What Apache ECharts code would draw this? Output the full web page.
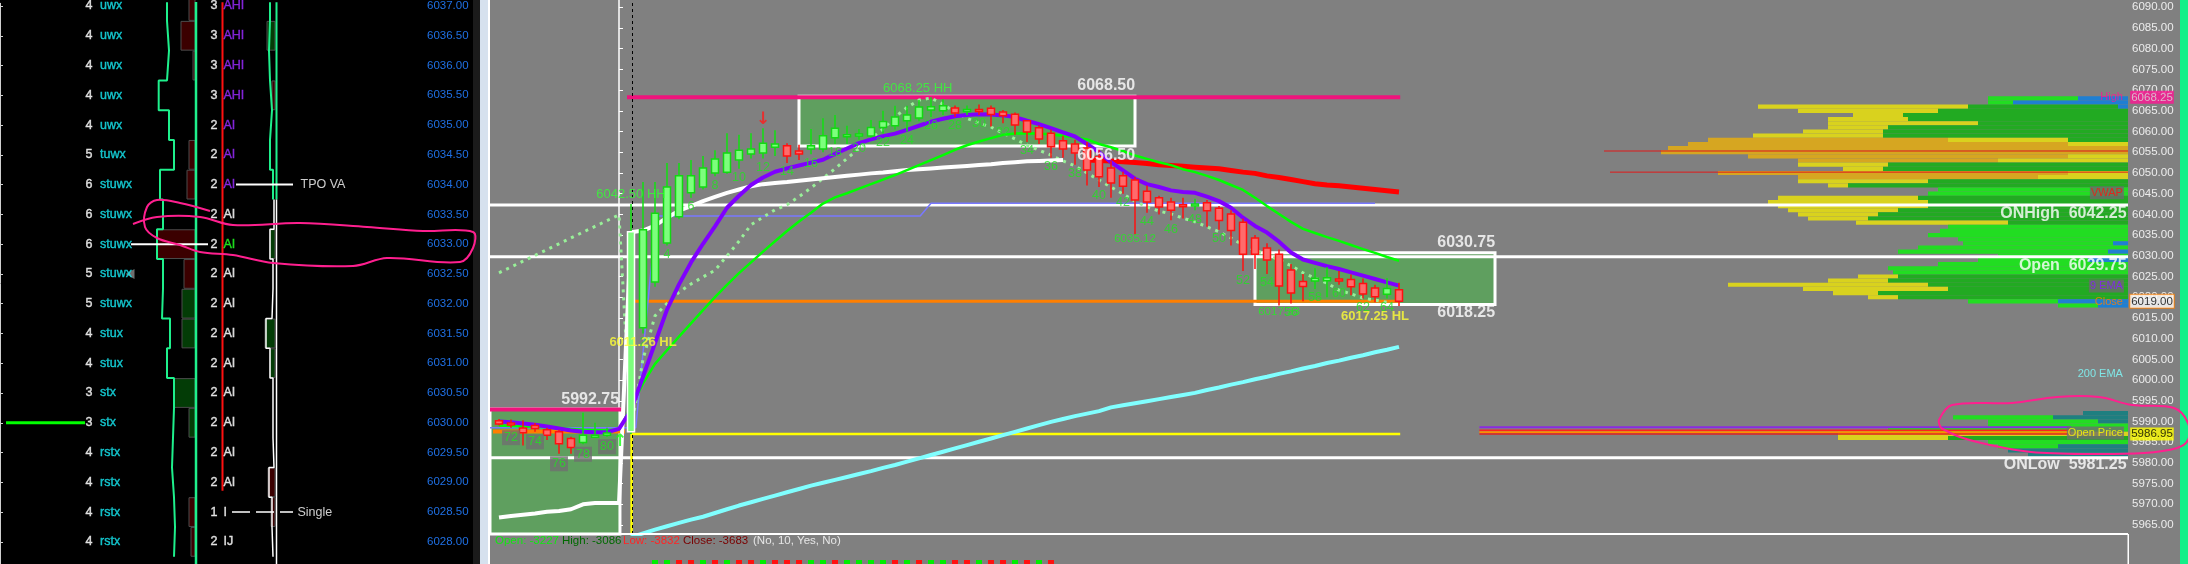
<!DOCTYPE html>
<html>
<head>
<meta charset="utf-8">
<script src="https://cdn.jsdelivr.net/npm/echarts@6.0.0/dist/echarts.min.js"></script>
<style>
html,body{margin:0;padding:0;background:#000;overflow:hidden}
#c{width:2188px;height:564px}
</style>
</head>
<body>
<div id="c"></div>
<script>
// ================= DATA =================
const priceTicks = [5965,5970,5975,5980,5985,5990,5995,6000,6005,6010,6015,6020,6025,6030,6035,6040,6045,6050,6055,6060,6065,6070,6075,6080,6085,6090];
const tpoTicks = [6028,6028.5,6029,6029.5,6030,6030.5,6031,6031.5,6032,6032.5,6033,6033.5,6034,6034.5,6035,6035.5,6036,6036.5,6037];

// candles: bar index (prev session -10..-1, current session 1..65)
const candleOpen = [5990.2,5989.6,5988.4,5989.0,5988.0,5987.5,5985.9,5984.9,5986.2,5986.7,
 5987.5,6012.6,6023.7,6033.1,6039.4,6045.2,6046.6,6050.0,6050.2,6053.1,
 6054.6,6054.8,6056.2,6056.6,6055.3,6055.8,6055.8,6058.5,6059.0,6059.2,
 6058.9,6061.0,6061.4,6062.6,6063.3,6065.2,6065.0,6065.7,6065.0,6065.3,
 6065.6,6064.7,6064.2,6062.6,6060.9,6059.6,6057.8,6057.0,6056.0,6053.9,
 6051.2,6049.3,6048.3,6045.6,6044.0,6043.0,6042.3,6042.2,6042.8,6041.5,
 6040.1,6038.1,6034.3,6031.9,6030.4,6026.6,6023.8,6023.9,6024.0,6024.4,
 6024.3,6023.3,6022.2,6020.7,6021.8];
const candleHigh = [5990.6,5990.5,5990.3,5989.6,5988.5,5988.0,5986.3,5992.1,5989.7,5988.5,
 6042.5,6047.8,6047.8,6052.4,6052.4,6053.1,6054.1,6055.5,6059.6,6059.2,
 6059.6,6060.8,6060.3,6057.2,6056.8,6060.6,6063.2,6064.0,6061.4,6060.6,
 6062.8,6065.0,6066.2,6066.2,6067.6,6068.25,6067.8,6066.3,6066.3,6066.5,
 6066.3,6065.2,6064.6,6062.8,6061.5,6060.5,6059.0,6058.0,6057.5,6056.0,
 6053.0,6050.3,6049.0,6047.0,6044.5,6044.0,6044.0,6043.8,6043.5,6042.0,
 6041.0,6039.0,6035.0,6033.0,6031.5,6028.0,6025.6,6027.0,6027.3,6026.3,
 6025.5,6024.5,6023.0,6024.6,6023.5];
const candleLow = [5989.0,5988.5,5984.2,5987.5,5985.5,5982.2,5982.2,5984.5,5986.0,5986.3,
 5987.0,6011.26,6022.5,6032.5,6038.8,6044.0,6046.0,6049.2,6049.8,6051.0,
 6053.5,6053.5,6054.1,6052.4,6053.1,6054.5,6055.0,6057.0,6057.0,6058.0,
 6058.5,6059.5,6060.5,6060.0,6062.5,6063.5,6064.0,6063.5,6064.0,6064.0,
 6061.2,6062.0,6059.2,6057.5,6057.0,6053.7,6053.7,6052.0,6047.0,6046.6,
 6044.0,6045.0,6035.12,6040.4,6040.0,6038.6,6039.0,6041.0,6037.0,6036.3,
 6032.5,6026.3,6026.8,6025.6,6018.0,6018.5,6019.0,6022.0,6020.0,6023.0,
 6020.5,6019.7,6018.8,6019.7,6017.9];
const candleClose = [5989.4,5989.2,5987.3,5988.3,5986.7,5984.6,5983.7,5986.7,5986.7,5987.2,
 6035.8,6036.3,6040.3,6046.6,6049.3,6049.3,6051.2,6053.4,6054.8,6055.5,
 6055.8,6057.2,6057.0,6054.1,6054.6,6056.6,6059.0,6060.8,6059.2,6059.4,
 6061.0,6062.4,6063.5,6064.0,6065.9,6066.0,6066.2,6064.5,6065.3,6065.0,
 6064.1,6063.8,6061.6,6059.9,6058.2,6056.3,6055.8,6054.8,6050.7,6049.1,
 6047.6,6046.8,6043.5,6043.0,6041.8,6041.0,6042.0,6042.5,6040.9,6038.5,
 6036.1,6030.4,6030.4,6029.0,6022.7,6021.0,6022.6,6024.6,6024.7,6024.0,
 6022.5,6020.8,6020.1,6022.1,6019.0];

// indicator lines (bar -10..65)
const ema9 = [5990.0,5989.8,5989.5,5989.2,5988.8,5988.3,5987.8,5987.5,5987.4,5987.4,5988.2,
 5992.7,6000.8,6008.9,6017.0,6023.1,6028.4,6032.9,6037.1,6041.6,6044.5,
 6047.1,6048.9,6050.3,6051.1,6051.8,6052.5,6053.2,6054.6,6055.9,6057.2,
 6058.1,6058.9,6059.5,6060.4,6061.4,6062.4,6063.1,6063.7,6064.0,6064.2,
 6064.1,6063.9,6063.5,6062.6,6061.8,6060.8,6059.8,6058.8,6057.0,6055.0,
 6052.6,6050.6,6048.6,6047.3,6046.6,6045.8,6045.4,6045.2,6044.3,6043.2,
 6041.6,6039.2,6037.2,6035.6,6033.4,6030.8,6029.1,6028.3,6027.5,6026.8,
 6026.0,6025.2,6024.4,6023.6,6022.8];
const ema20 = [5989.0,5988.9,5988.8,5988.7,5988.6,5988.4,5988.2,5988.0,5987.9,5987.9,5988.0,
 5993.5,5999.2,6003.9,6007.2,6010.5,6013.7,6016.9,6020.0,6023.0,6025.8,
 6028.4,6031.0,6033.5,6036.0,6038.3,6040.4,6042.6,6044.1,6045.1,6046.2,
 6047.3,6048.4,6049.5,6050.7,6051.9,6053.1,6054.3,6055.6,6056.7,6057.6,
 6058.4,6059.2,6059.5,6059.6,6059.5,6059.3,6059.0,6058.6,6058.1,6057.0,
 6056.2,6055.3,6054.2,6053.4,6052.6,6051.9,6050.9,6050.2,6049.3,6048.3,
 6047.1,6045.9,6044.0,6042.0,6040.1,6038.2,6036.5,6035.5,6034.5,6033.6,
 6032.6,6031.6,6030.7,6029.7,6028.8];
// white line (bar -10..37)
const whiteLine = [5966.8,5967.2,5967.5,5967.8,5968.2,5968.4,5968.8,5970.0,5970.3,5970.3,5970.3,
 6035.7,6036.1,6037.3,6039.2,6040.9,6042.0,6043.2,6044.2,6045.2,6046.0,
 6046.8,6047.3,6047.6,6047.8,6048.1,6048.4,6048.7,6049.0,6049.3,6049.6,
 6049.9,6050.1,6050.4,6050.7,6050.9,6051.1,6051.3,6051.5,6051.7,6051.9,
 6052.1,6052.4,6052.6,6052.8,6052.9,6053.0,6053.1];
// VWAP (bar 39..65)
const vwap = [6053.1,6053.0,6052.9,6052.7,6052.5,6052.3,6052.0,6051.8,6051.6,6051.4,6051.2,6051.0,6050.6,6050.2,6049.9,6049.3,6048.9,6048.4,6047.9,6047.4,6047.1,6046.9,6046.6,6046.3,6046.0,6045.7,6045.4];
// 200 EMA (bar 1..65)
const ema200 = [5962.0,5963.0,5963.9,5964.7,5965.5,5966.3,5967.0,5967.9,5968.8,5969.7,
 5970.5,5971.3,5972.1,5972.9,5973.7,5974.5,5975.2,5975.9,5976.6,5977.3,
 5978.0,5978.8,5979.5,5980.3,5981.1,5981.9,5982.7,5983.5,5984.3,5985.1,
 5985.9,5986.7,5987.5,5988.3,5989.1,5989.9,5990.6,5991.3,5991.9,5992.5,
 5993.4,5993.9,5994.4,5994.9,5995.4,5995.9,5996.4,5996.9,5997.6,5998.2,
 5998.9,5999.5,6000.2,6000.8,6001.5,6002.1,6002.8,6003.4,6004.1,6004.7,
 6005.4,6006.0,6006.7,6007.3,6008.0];
// dotted trail line (bar -10..64)
const trail = [6025.9,6027.3,6028.7,6030.1,6031.5,6032.9,6034.3,6035.7,6037.1,6038.5,6039.9,
 5988.0,6005.0,6015.5,6018.5,6021.2,6023.2,6024.9,6026.5,6030.0,6033.5,
 6037.5,6039.3,6041.1,6042.3,6044.3,6046.4,6048.7,6051.0,6053.5,6055.9,
 6058.3,6060.6,6063.5,6065.8,6067.6,6068.1,
 6066.6,6064.7,6063.2,6062.0,6061.1,6059.6,6058.2,6056.7,6055.5,6054.3,6052.9,6051.7,6050.0,6048.3,6046.6,6044.9,6043.2,6041.8,6040.8,6040.1,6039.1,6038.2,6037.0,6035.8,6034.3,6032.6,6031.4,6030.2,6029.0,6027.6,6025.9,6024.6,6023.4,6021.7,6020.8,6019.8,6019.3,6018.8];
// thin blue step line
const stepIdx = [-10.75, 1.4, 3.1, 25.1, 26.0, 63.0];
const stepVal = [5988.5, 5988.5, 6039.6, 6039.6, 6042.7, 6042.7];

// horizontal levels
const levelName  = ['High','PrevHigh','ONHigh','Open','ONLow','Close','PrevClose','ExtPurple','ExtRed1','ExtOrange','ExtRed2'];
const levelPrice = [6068.25, 5992.9, 6042.25, 6029.75, 5981.25, 6019.0, 5987.6, 5988.6, 5987.9, 5987.4, 5987.0];
const levelFrom  = [0.67, -10.75, -10.75, -10.75, -10.75, 0.67, -10.5, 71.7, 71.7, 71.7, 71.7];
const levelTo    = [65.1, 0.5, 125.75, 125.75, 125.75, 65.1, 0.5, 121, 121, 121, 121];
const openPrice = 5986.95, openPriceFrom = 1.05, openPriceTo = 65.1;

// boxes [fromBar, toBar, top, bottom]
const boxFrom = [15, 53, -10.75];
const boxTo   = [43, 73, 0.08];
const boxTop  = [6068.5, 6030.75, 5993.0];
const boxBot  = [6056.5, 6018.25, 5962.83];

// chart annotations
const annText  = ['6068.50','6056.50','6068.25 HH','6042.50 HH','6011.26 HL','6017.25 HL','6035.12','6017.33','5992.75','6030.75','6018.25'];
const annKind  = ['box','box','hh','hh','hl','hl','lo','lo','box','box','box'];
const annBar   = [40.6, 40.6, 24.9, 1.0, 2.0, 63.0, 43.0, 55.0, -2.4, 70.6, 70.6];
const annPrice = [6071.0, 6054.3, 6070.5, 6044.9, 6009.2, 6015.3, 6034.1, 6016.5, 5995.4, 6033.3, 6016.2];

const rightBig = ['ONHigh  6042.25','Open  6029.75','ONLow  5981.25'];
const rightBigPrice = [6040.1, 6027.6, 5979.5];
const rightSmall = ['High','VWAP','9 EMA','Close','200 EMA','Open Price'];
const rightSmallPrice = [6068.4, 6045.2, 6022.7, 6018.9, 6001.5, 5987.2];
const tagText = ['6068.25','6019.00','5986.95'];
const tagPrice = [6068.25, 6019.0, 5986.95];

const arrowBar = [12, 0.1];
const arrowPrice = [6063.0, 5985.2];
const arrowDir = ['down','up'];

// bottom delta marks
const markBar  = [3,4,5,6,7,8,9,10,11,12,13,14,15,16,17,18,19,20,21,22,23,24,25,26,27,28,29,30,31,32,33,34,35,36];
const markSign = [1,1,-1,-1,1,-1,1,-1,-1,1,-1,-1,-1,1,1,-1,1,1,1,1,-1,1,-1,1,1,-1,-1,1,-1,-1,1,-1,1,-1];

// volume profile rows (price, blue, green, yellow, gold)
const profPrice  = [6068,6067,6066,6065,6064,6063,6062,6061,6060,6059,6058,6057,6056,6055,6054,6053,6052,6051,6050,6049,6048,6047,6046,6045,6044,6043,6042,6041,6040,6039,6038,6037,6036,6035,6034,6033,6032,6031,6030,6029,6028,6027,6026,6025,6024,6023,6022,6021,6020,6019,6018,
                    5992,5991,5990,5989,5988,5987,5986,5985,5984,5983,5982];
const profBlue   = [50,115,10,0,0,0,0,0,0,0,0,0,0,0,0,0,0,0,0,0,0,0,0,0,0,0,0,0,0,0,0,0,0,0,0,15,0,20,0,40,0,0,0,0,0,0,0,0,0,70,30,
                    45,75,30,0,0,0,0,0,70,120,100];
const profGreen  = [90,25,150,190,225,220,150,240,245,245,60,0,0,0,0,0,240,245,0,0,200,280,190,200,210,200,200,230,250,260,120,180,188,200,170,150,210,210,130,110,190,240,235,230,240,200,180,250,230,90,40,
                    0,100,110,140,240,0,180,140,60,0,0];
const profYellow = [0,0,210,140,50,80,150,60,80,130,120,60,0,0,60,130,90,40,60,90,130,20,0,0,140,160,150,110,80,60,152,0,0,0,0,0,0,0,0,0,0,0,0,40,60,200,145,45,30,0,0,
                    0,0,0,0,0,290,110,0,0,0,0];
const profGold   = [0,0,0,0,0,0,0,0,0,0,240,380,460,467,320,200,0,0,350,240,0,0,0,0,0,0,0,0,0,0,0,0,0,0,0,0,0,0,0,0,0,0,0,0,0,0,0,0,0,0,0,
                    0,0,0,0,0,0,0,0,0,0,0];
const profLinePrice = [6055.3, 6050.2];
const profLineLen   = [524, 518];

// TPO panel rows
const tpoPrices  = [6037.0,6036.5,6036.0,6035.5,6035.0,6034.5,6034.0,6033.5,6033.0,6032.5,6032.0,6031.5,6031.0,6030.5,6030.0,6029.5,6029.0,6028.5,6028.0];
const tpoCount1  = [4,4,4,4,4,5,6,6,6,5,5,4,4,3,3,4,4,4,4];
const tpoLetters1= ['uwx','uwx','uwx','uwx','uwx','tuwx','stuwx','stuwx','stuwx','stuwx','stuwx','stux','stux','stx','stx','rstx','rstx','rstx','rstx'];
const tpoCount2  = [3,3,3,3,2,2,2,2,2,2,2,2,2,2,2,2,2,1,2];
const tpoLetters2= ['AHI','AHI','AHI','AHI','AI','AI','AI','AI','AI','AI','AI','AI','AI','AI','AI','AI','AI','I','IJ'];
const tpoProfileL= [167,169,167,158.7,169,174,160,163,157,163,162,170,167,174,173,172,174,175,174];
const tpoProfileR= [270,269,270,272,270,270,273,274,270,273,272,266,270,273,273,274,269,272,273];
const tpoDeltaL  = [-6,-14,-2,0,0,-6,-8,0,-38,-11,13,13,0,21,6,0,0,-6,-4];
const tpoDeltaR  = [0,8,0,-3,0,0,0,0,5,0,0,10,5,0,0,0,-7,-4,0];
const tpoVA = 6034.0, tpoPOC = 6033.0, tpoSingle = 6028.5, tpoMark = 6030.0;

// ================= CHART =================
const FONT = '"Liberation Sans", Arial, sans-serif';
const range = (a, b) => { const r = []; for (let k = a; k <= b; k++) r.push(k); return r; };
const candleIdx = range(-10, -1).concat(range(1, 65));
const emaIdx = range(-10, 65);
const whiteIdx = range(-10, 37);
const vwapIdx = range(39, 65);
const e200Idx = range(1, 65);
const trailIdx = range(-10, 64);
const pts = (xs, ys) => xs.map((x, k) => [x, ys[k]]);

const chart = echarts.init(document.getElementById('c'), null, {width: 2188, height: 564, renderer: 'canvas'});

function mainLine(name, data, style, z, extra) {
  return Object.assign({type: 'line', name, xAxisIndex: 0, yAxisIndex: 0, data, showSymbol: false, symbol: 'none',
    lineStyle: style, z, silent: true, animation: false}, extra || {});
}

function renderCandle(params, api) {
  const i = api.value(0), o = api.value(1), h = api.value(2), l = api.value(3), c = api.value(4);
  const pO = api.coord([i, o]), pC = api.coord([i, c]), pH = api.coord([i, h]), pL = api.coord([i, l]);
  const up = c >= o;
  const w = 7;
  const top = Math.min(pO[1], pC[1]), bot = Math.max(pO[1], pC[1]);
  const stroke = up ? (i === 1 ? '#ffffff' : '#12d812') : '#ff1010';
  return {type: 'group', children: [
    {type: 'line', shape: {x1: pH[0], y1: pH[1], x2: pL[0], y2: pL[1]}, style: {stroke: up ? '#10e010' : '#ff1010', lineWidth: 1.5}},
    {type: 'rect', shape: {x: pO[0] - w / 2, y: top, width: w, height: Math.max(bot - top, 2)},
      style: {fill: up ? '#7dff7d' : '#ff6b6b', stroke, lineWidth: 1.5}}
  ]};
}

function renderProfile(params, api) {
  const p = api.value(0);
  const b = api.value(1), g = api.value(2), yv = api.value(3), o = api.value(4);
  const blueCol = p > 6000 ? '#1f7fd2' : '#1f7f80';
  const greenCol = (yv > 0 || o > 0) ? '#22aa22' : '#22dd22';
  const segs = [[b, blueCol], [g, greenCol], [yv, '#d9d21e'], [o, '#d6a621']];
  const yTop = api.coord([0, p + 0.5])[1];
  const yBot = api.coord([0, p - 0.5])[1];
  let acc = 0; const children = [];
  for (const [len, col] of segs) {
    if (len > 0) {
      const xr = api.coord([acc, p])[0];
      const xl = api.coord([acc + len, p])[0];
      children.push({type: 'rect', shape: {x: xl, y: yTop, width: xr - xl, height: yBot - yTop}, style: {fill: col}});
      acc += len;
    }
  }
  return {type: 'group', children};
}

function renderTpoBar(params, api) {
  const ax = api.value(0), p = api.value(1), w = api.value(2);
  if (!w) return null;
  const a = api.coord([ax, p + 0.25]);
  const b = api.coord([ax - Math.abs(w), p - 0.25]);
  return {type: 'rect', shape: {x: b[0], y: a[1] + 0.5, width: a[0] - b[0], height: b[1] - a[1] - 1},
    style: {fill: w < 0 ? '#3b0000' : '#033c06', stroke: '#4c4c4c', lineWidth: 1}};
}

function renderMark(params, api) {
  const i = api.value(0), s = api.value(1);
  const p0 = api.coord([i, 0]), p1 = api.coord([i, 1]);
  return {type: 'rect', shape: {x: p0[0] - 3, y: p1[1], width: 6, height: p0[1] - p1[1]},
    style: {fill: s > 0 ? '#00ee00' : '#ff1010'}};
}

function stepPoints(prices, xs, half) {
  const out = [];
  prices.forEach((p, k) => { out.push([xs[k], p + half]); out.push([xs[k], p - half]); });
  return out;
}

const levelStyle = {
  High: {color: '#ef137c', width: 4}, PrevHigh: {color: '#ef137c', width: 4},
  ONHigh: {color: '#ffffff', width: 3}, Open: {color: '#ffffff', width: 3}, ONLow: {color: '#ffffff', width: 3},
  Close: {color: '#ff7f00', width: 3}, PrevClose: {color: '#ff7f00', width: 4},
  ExtPurple: {color: '#8a2be2', width: 2}, ExtRed1: {color: '#ff2020', width: 1.5},
  ExtOrange: {color: '#ff8c00', width: 2}, ExtRed2: {color: '#e02020', width: 1.5}
};

const annStyle = {
  box: {color: '#ffffff', fontSize: 16, fontWeight: 'bold'},
  hh: {color: '#33ff33', fontSize: 13, fontWeight: 'normal'},
  hl: {color: '#ffff33', fontSize: 13, fontWeight: 'bold'},
  lo: {color: '#22ee22', fontSize: 11.5, fontWeight: 'normal'}
};
const smallStyle = {
  'High': {color: '#ff1493'}, 'VWAP': {color: '#ff1010', backgroundColor: '#6c6c6c'},
  '9 EMA': {color: '#8a1cff', backgroundColor: '#6c6c6c'}, 'Close': {color: '#ff8000'},
  '200 EMA': {color: '#80ffff'}, 'Open Price': {color: '#ffff00', backgroundColor: '#6e6e6e'}
};
const tagStyle = {
  '6068.25': {backgroundColor: '#ff1493', color: '#d8d8d8'},
  '6019.00': {backgroundColor: '#ffffff', color: '#000000', borderColor: '#ff8000', borderWidth: 1},
  '5986.95': {backgroundColor: '#ffff00', color: '#000000'}
};

// bar number labels
const lowByBar = {};
candleIdx.forEach((x, k) => { lowByBar[x] = candleLow[k]; });
const barLabels = [];
[-9, -7, -5, -3, -1].forEach(x => barLabels.push({value: [x, lowByBar[x]], label: {formatter: String(81 + x), backgroundColor: '#6f6f6f', padding: [1, 2]}}));
range(1, 32).map(k => 2 * k).forEach(x => barLabels.push({value: [x, lowByBar[x]], label: {formatter: String(x)}}));

const series = [];

// boxes
series.push({type: 'line', xAxisIndex: 0, yAxisIndex: 0, data: [], z: 1, silent: true,
  markArea: {silent: true, itemStyle: {color: '#5f9f5f', borderColor: '#ffffff', borderWidth: 3},
    data: boxFrom.map((f, k) => [{xAxis: f, yAxis: boxTop[k]}, {xAxis: boxTo[k], yAxis: boxBot[k]}])}});

// volume profile
series.push({type: 'custom', xAxisIndex: 3, yAxisIndex: 3, z: 2, silent: true, animation: false,
  data: profPrice.map((p, k) => [p, profBlue[k], profGreen[k], profYellow[k], profGold[k]]),
  encode: {x: 2, y: 0}, renderItem: renderProfile});
profLinePrice.forEach((p, k) => series.push({type: 'line', xAxisIndex: 3, yAxisIndex: 3, z: 2, silent: true, symbol: 'none',
  data: [[profLineLen[k], p], [0, p]], lineStyle: {color: '#e01818', width: 1}}));

// levels
levelName.forEach((n, k) => {
  const extra = (n === 'High') ? {markLine: {silent: true, symbol: 'none', label: {show: false},
    lineStyle: {color: '#000000', type: [3, 3], width: 1}, data: [{xAxis: 1.08}]}} : {};
  series.push(mainLine(n, [[levelFrom[k], levelPrice[k]], [levelTo[k], levelPrice[k]]], levelStyle[n], 3, extra));
});
series.push(mainLine('OpenPrice', [[openPriceFrom, 5960], [openPriceFrom, openPrice], [openPriceTo, openPrice]], {color: '#ffff00', width: 2.5}, 3));
series.push(mainLine('step', pts(stepIdx, stepVal), {color: '#7878ff', width: 1.5}, 3));

// indicators
series.push(mainLine('ema200', pts(e200Idx, ema200), {color: '#80ffff', width: 4}, 4));
series.push(mainLine('trail', pts(trailIdx, trail), {color: '#98f098', width: 3, type: [3, 5]}, 4));
series.push(mainLine('white', pts(whiteIdx, whiteLine), {color: '#ffffff', width: 4}, 4));
series.push(mainLine('vwap', pts(vwapIdx, vwap), {color: '#ff0000', width: 5}, 4));
series.push(mainLine('ema20', pts(emaIdx, ema20), {color: '#00ff00', width: 2.5}, 4));
series.push(mainLine('ema9', pts(emaIdx, ema9), {color: '#7f00ff', width: 4}, 4));

// candles
series.push({type: 'custom', xAxisIndex: 0, yAxisIndex: 0, z: 6, silent: true, animation: false,
  data: candleIdx.map((x, k) => [x, candleOpen[k], candleHigh[k], candleLow[k], candleClose[k]]),
  encode: {x: 0, y: [1, 2, 3, 4]}, renderItem: renderCandle});

// bar number labels
series.push({type: 'scatter', xAxisIndex: 0, yAxisIndex: 0, z: 7, silent: true, symbolSize: 1, itemStyle: {color: 'rgba(0,0,0,0)'},
  data: barLabels, label: {show: true, position: 'bottom', distance: 2, color: '#22e022', fontSize: 12.5, fontFamily: FONT}});

// arrows
series.push({type: 'scatter', xAxisIndex: 0, yAxisIndex: 0, z: 7, silent: true, symbolSize: 1, itemStyle: {color: 'rgba(0,0,0,0)'},
  data: arrowBar.map((x, k) => ({value: [x, arrowPrice[k]], label: {formatter: arrowDir[k] === 'down' ? '↓' : '↑', color: arrowDir[k] === 'down' ? '#ff1a1a' : '#10ff10'}})),
  label: {show: true, position: 'inside', fontSize: 17, fontWeight: 'bold', fontFamily: '"DejaVu Sans", sans-serif'}});

// annotations
series.push({type: 'scatter', xAxisIndex: 0, yAxisIndex: 0, z: 8, silent: true, symbolSize: 1, itemStyle: {color: 'rgba(0,0,0,0)'},
  data: annText.map((t, k) => ({value: [annBar[k], annPrice[k]], label: Object.assign({formatter: t}, annStyle[annKind[k]])})),
  label: {show: true, position: 'inside', fontFamily: FONT}});
series.push({type: 'scatter', xAxisIndex: 0, yAxisIndex: 0, z: 8, silent: true, symbolSize: 1, itemStyle: {color: 'rgba(0,0,0,0)'},
  data: rightBig.map((t, k) => ({value: [125.67, rightBigPrice[k]], label: {formatter: t}})),
  label: {show: true, position: 'left', distance: 0, color: '#ffffff', fontSize: 16, fontWeight: 'bold', fontFamily: FONT}});
series.push({type: 'scatter', xAxisIndex: 0, yAxisIndex: 0, z: 8, silent: true, symbolSize: 1, itemStyle: {color: 'rgba(0,0,0,0)'},
  data: rightSmall.map((t, k) => ({value: [125.45, rightSmallPrice[k]], label: Object.assign({formatter: t}, smallStyle[t])})),
  label: {show: true, position: 'left', distance: 0, fontSize: 11, fontFamily: FONT, padding: [1, 1]}});
series.push({type: 'scatter', xAxisIndex: 0, yAxisIndex: 0, z: 9, silent: true, clip: false, symbolSize: 1, itemStyle: {color: 'rgba(0,0,0,0)'},
  data: tagText.map((t, k) => ({value: [127.75, tagPrice[k]], label: Object.assign({formatter: t}, tagStyle[t])})),
  label: {show: true, position: 'inside', fontSize: 11.5, fontFamily: FONT, padding: [1, 1, 0, 1]}});

// bottom delta marks
series.push({type: 'custom', xAxisIndex: 2, yAxisIndex: 2, z: 3, silent: true, animation: false,
  data: markBar.map((x, k) => [x, markSign[k]]), encode: {x: 0, y: 1}, renderItem: renderMark});

// ---------- TPO panel ----------
series.push({type: 'custom', xAxisIndex: 1, yAxisIndex: 1, z: 2, silent: true, animation: false,
  data: tpoPrices.map((p, k) => [195, p, tpoDeltaL[k]]).concat(tpoPrices.map((p, k) => [275, p, tpoDeltaR[k]])),
  encode: {x: 0, y: 1}, renderItem: renderTpoBar});
const tpoLine = (data, color, width, z) => ({type: 'line', xAxisIndex: 1, yAxisIndex: 1, data, symbol: 'none', showSymbol: false,
  silent: true, z: z || 3, lineStyle: {color, width}, animation: false});
series.push(tpoLine(stepPoints(tpoPrices, tpoProfileL, 0.25), '#1ef08c', 2));
const rIdxG = tpoPrices.map((p, k) => k).filter(k => tpoPrices[k] >= tpoVA);
const rIdxW = tpoPrices.map((p, k) => k).filter(k => tpoPrices[k] < tpoVA + 0.5);
series.push(tpoLine(stepPoints(rIdxG.map(k => tpoPrices[k]), rIdxG.map(k => tpoProfileR[k]), 0.25), '#1ef08c', 2));
series.push(tpoLine(stepPoints(rIdxW.slice(1).map(k => tpoPrices[k]), rIdxW.slice(1).map(k => tpoProfileR[k]), 0.25), '#ffffff', 1.5));
series.push(tpoLine([[196, 6037.1], [196, 6027.6]], '#1ef08c', 2.5));
series.push(tpoLine([[222.5, 6037.1], [222.5, 6028.86]], '#ff1010', 2));
series.push(tpoLine([[276.5, 6037.1], [276.5, tpoVA - 0.25]], '#1ef08c', 2));
series.push(tpoLine([[276.5, tpoVA - 0.25], [276.5, 6027.6]], '#ffffff', 1.5));
// markers
series.push(tpoLine([[6, tpoMark], [85, tpoMark]], '#00ff00', 3, 4));
series.push(tpoLine([[131, tpoPOC], [208, tpoPOC]], '#ffffff', 2, 4));
series.push(tpoLine([[236, tpoVA], [293, tpoVA]], '#ffffff', 2, 4));
series.push(Object.assign(tpoLine([[232, tpoSingle], [293, tpoSingle]], '#ffffff', 1.5, 4), {lineStyle: {color: '#ffffff', width: 1.5, type: [18, 6]}}));
// TPO texts
const tpoText = (data, pos, extra) => ({type: 'scatter', xAxisIndex: 1, yAxisIndex: 1, z: 6, silent: true, symbolSize: 1,
  itemStyle: {color: 'rgba(0,0,0,0)'}, data,
  label: Object.assign({show: true, position: pos, distance: 0, fontSize: 12.5, fontFamily: FONT, formatter: p => p.value[2]}, extra || {})});
series.push(tpoText(tpoPrices.map((p, k) => [89, p, String(tpoCount1[k])]), 'inside', {color: '#ffffff', textBorderColor: '#ffffff', textBorderWidth: 0.4}));
series.push(tpoText(tpoPrices.map((p, k) => [99.5, p, tpoLetters1[k]]), 'right', {color: '#16e4ec', textBorderColor: '#16e4ec', textBorderWidth: 0.4}));
series.push(tpoText(tpoPrices.map((p, k) => [214, p, String(tpoCount2[k])]), 'inside', {color: '#ffffff', textBorderColor: '#ffffff', textBorderWidth: 0.4}));
series.push(tpoText(tpoPrices.map((p, k) => {
  const col = p >= tpoVA ? '#9a2cff' : (p === tpoPOC ? '#22ff22' : '#ffffff');
  return {value: [223, p, tpoLetters2[k]], label: {color: col, textBorderColor: col, textBorderWidth: 0.4}};
}), 'right'));
series.push(tpoText([[300, tpoVA, 'TPO VA'], [297, tpoSingle, 'Single']], 'right', {color: '#ffffff'}));
series.push({type: 'scatter', xAxisIndex: 1, yAxisIndex: 1, z: 6, silent: true, symbol: 'triangle', symbolRotate: 90, symbolSize: [10, 9],
  itemStyle: {color: '#8a8a8a'}, data: [[130, 6032.5]]});

const txt = (x, text, fill) => ({type: 'text', zlevel: 1, z: 10, silent: true, x, y: 541,
  style: {text, fill, font: '11.5px ' + FONT, verticalAlign: 'middle', align: 'left'}});

const option = {
  backgroundColor: '#000000',
  animation: false,
  grid: [
    {left: 490, top: 0, width: 1638, height: 534},
    {left: 0, top: 0, width: 423, height: 564},
    {left: 490, top: 560, width: 1638, height: 4},
    {left: 1600, top: 0, width: 528, height: 534}
  ],
  xAxis: [
    {gridIndex: 0, type: 'value', min: -10.75, max: 125.75, show: false},
    {gridIndex: 1, type: 'value', min: 0, max: 423, show: false},
    {gridIndex: 2, type: 'value', min: -10.75, max: 125.75, show: false},
    {gridIndex: 3, type: 'value', min: 0, max: 528, inverse: true, show: false}
  ],
  yAxis: [
    {gridIndex: 0, type: 'value', min: 5962.83, max: 6091.76, position: 'right',
      axisLine: {show: true, lineStyle: {color: '#ffffff', width: 1.5}},
      axisTick: {show: true, length: 4, customValues: priceTicks, lineStyle: {color: '#ffffff'}},
      axisLabel: {customValues: priceTicks, formatter: v => Number(v).toFixed(2), color: '#ececec', fontSize: 11.5, fontFamily: FONT, margin: 4},
      splitLine: {show: false}},
    {gridIndex: 1, type: 'value', min: 6027.628, max: 6037.045, position: 'right',
      axisLine: {show: true, lineStyle: {color: '#d0d0d0', width: 1}},
      axisTick: {show: true, length: 3, customValues: tpoTicks, lineStyle: {color: '#d0d0d0'}},
      axisLabel: {customValues: tpoTicks, formatter: v => Number(v).toFixed(2), color: '#1f70e4', fontSize: 11.5, fontFamily: FONT, margin: 4},
      splitLine: {show: false}},
    {gridIndex: 2, type: 'value', min: 0, max: 1, show: false},
    {gridIndex: 3, type: 'value', min: 5962.83, max: 6091.76, show: false}
  ],
  graphic: [
    {type: 'rect', z: -100, silent: true, shape: {x: 490, y: 0, width: 1690, height: 564}, style: {fill: '#808080'}},
    {type: 'rect', z: -100, silent: true, shape: {x: 473, y: 0, width: 7, height: 564}, style: {fill: '#1b1b1b'}},
    {type: 'rect', z: -100, silent: true, shape: {x: 480, y: 0, width: 8, height: 564}, style: {fill: '#d6e1ee'}},
    {type: 'rect', z: -100, silent: true, shape: {x: 488, y: 0, width: 2, height: 564}, style: {fill: '#ffffff'}},
    {type: 'rect', z: -100, silent: true, shape: {x: 2180, y: 0, width: 8, height: 564}, style: {fill: '#12ef88'}},
    {type: 'rect', zlevel: 1, z: 5, silent: true, shape: {x: 490, y: 533, width: 1638, height: 2}, style: {fill: '#ffffff'}},
    {type: 'rect', zlevel: 1, z: 5, silent: true, shape: {x: 2127.5, y: 534, width: 1.5, height: 30}, style: {fill: '#ffffff'}},
    txt(495, 'Open: -3227', '#10e810'),
    txt(562, 'High: -3086', '#006a00'),
    txt(623, 'Low: -3832', '#ff2424'),
    txt(683, 'Close: -3683', '#7a0000'),
    txt(753, '(No, 10, Yes, No)', '#e6e6e6'),
    {type: 'polyline', zlevel: 1, z: 20, silent: true, shape: {smooth: 0.35, points: [[133,224],[157,217],[200,217],[233,225],[300,223],[367,227],[423,231],[473,232],[473,248],[460,262],[387,258],[353,266],[273,263],[233,255],[200,252],[180,245],[157,238],[145,227],[147,207],[157,200],[180,203],[210,211]]},
      style: {stroke: '#ff1f8f', lineWidth: 2, fill: null}},
    {type: 'polyline', zlevel: 1, z: 20, silent: true, shape: {smooth: 0.35, points: [[1941,428],[1939,420],[1952,405],[2012,403],[2057,397],[2099,397],[2132,405],[2174,408],[2188,423],[2188,440],[2177,448],[2144,453],[2087,454],[2031,452],[1990,445],[1960,437],[1941,428]]},
      style: {stroke: '#ff1f8f', lineWidth: 2, fill: null}}
  ],
  series
};
chart.setOption(option);
</script>
</body>
</html>
